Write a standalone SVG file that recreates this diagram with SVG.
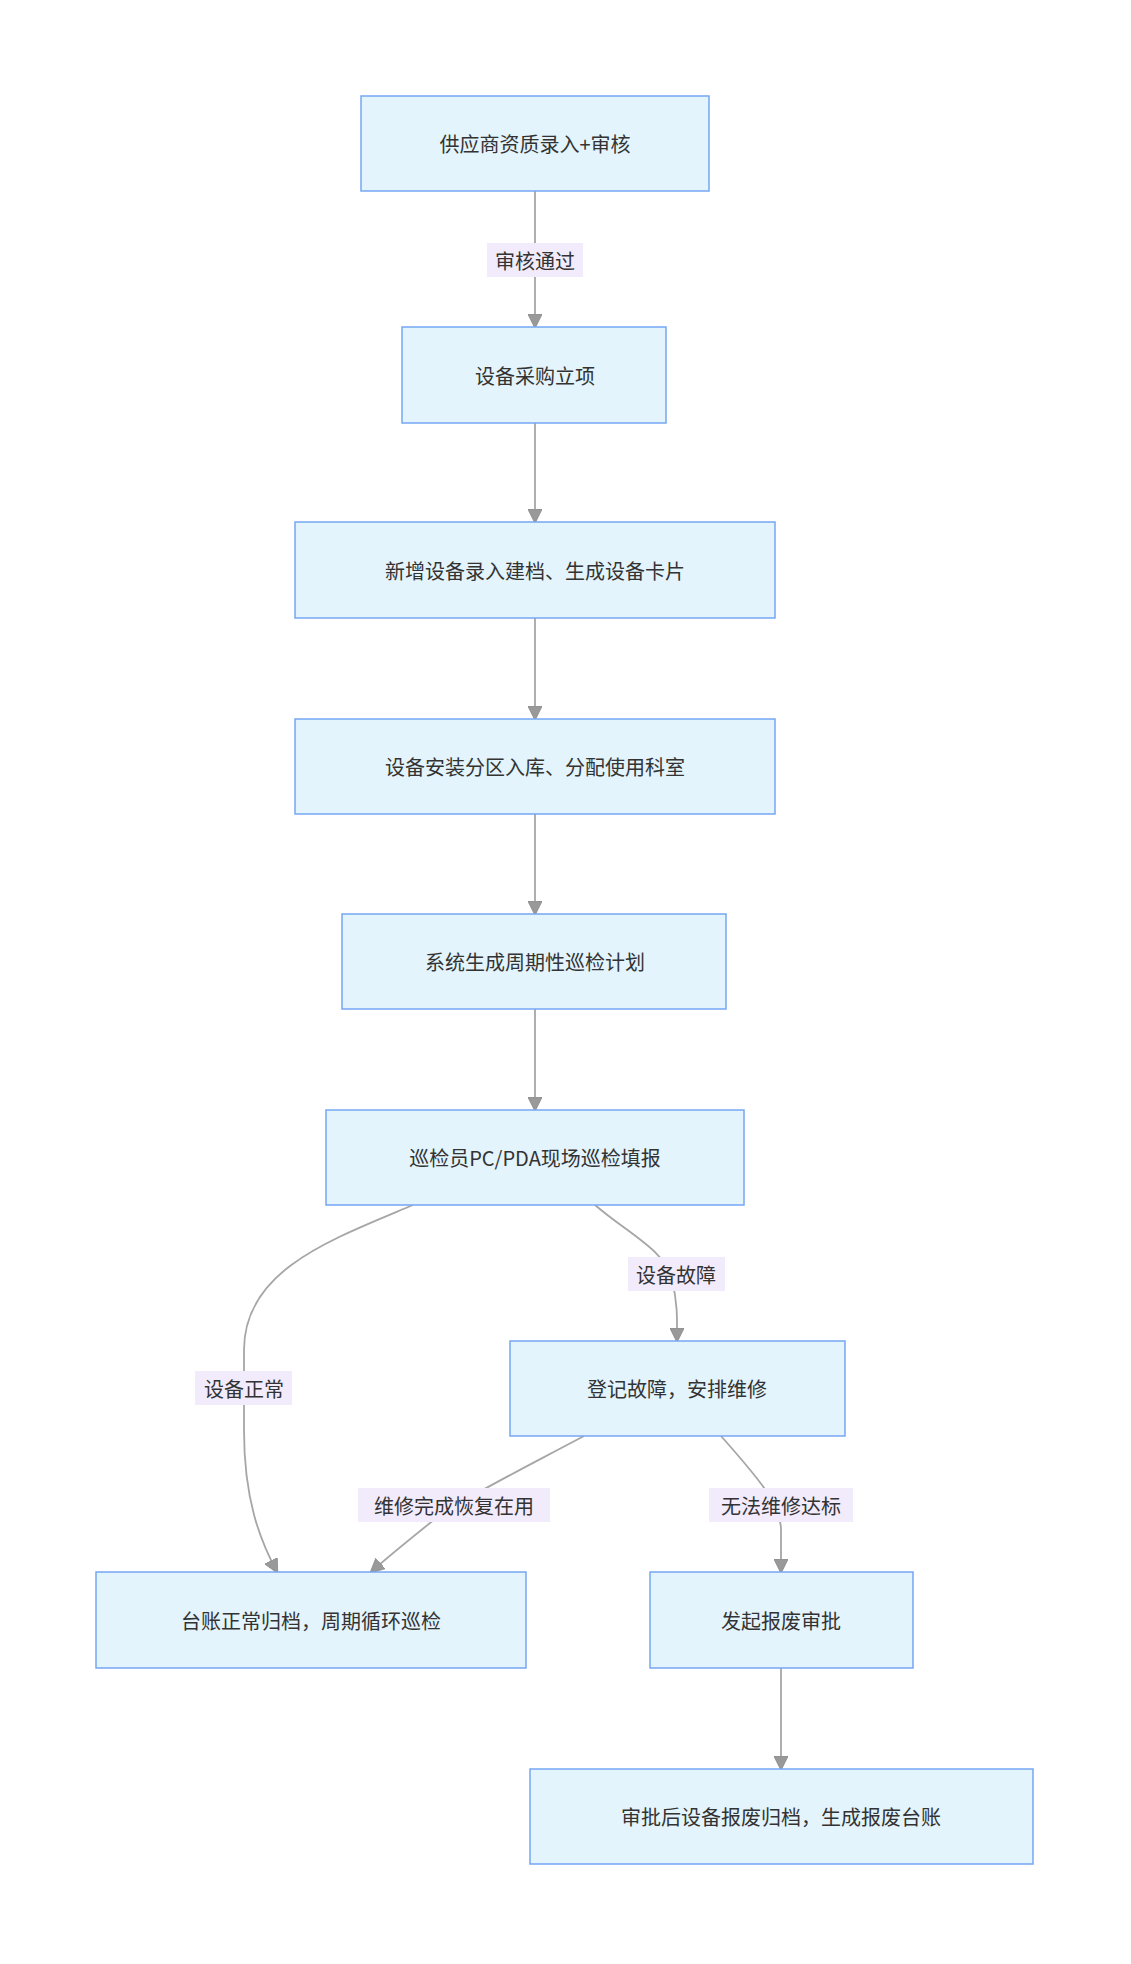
<svg xmlns="http://www.w3.org/2000/svg" width="1131" height="1964" viewBox="0 0 1131 1964">
<style>
.n rect{fill:#e3f4fd;stroke:#76a6f4;stroke-width:1.5}
text{font-family:"Noto Sans CJK SC","Liberation Sans",sans-serif;font-size:20px;fill:#333;text-anchor:middle;dominant-baseline:central}
.e path{fill:none;stroke:#a6a6a6;stroke-width:1.8}
.l rect{fill:#f2ebfb}
</style>
<defs><marker id="a" viewBox="0 0 10 10" refX="9" refY="5" markerWidth="8" markerHeight="8" orient="auto"><path d="M0,0L10,5L0,10z" fill="#999" stroke="#888" stroke-width="0.5"/></marker></defs>
<rect width="1131" height="1964" fill="#fff"/>
<g class="e">
<path d="M535,191V327" marker-end="url(#a)"/>
<path d="M535,423V522" marker-end="url(#a)"/>
<path d="M535,618V719" marker-end="url(#a)"/>
<path d="M535,814V914" marker-end="url(#a)"/>
<path d="M535,1009V1110" marker-end="url(#a)"/>
<path d="M413,1205C330,1240 244,1270 244,1350V1430C244,1500 260,1540 277,1572" marker-end="url(#a)"/>
<path d="M595,1205C630,1235 665,1250 672,1280C678,1305 677,1320 677,1341" marker-end="url(#a)"/>
<path d="M584,1436C520,1470 470,1495 440,1515C415,1535 390,1555 371,1572" marker-end="url(#a)"/>
<path d="M721,1436C760,1480 781,1505 781,1530V1572" marker-end="url(#a)"/>
<path d="M781,1668V1769" marker-end="url(#a)"/>
</g>
<g class="l">
<g><rect x="487" y="243" width="96" height="34"/><text x="535" y="260">审核通过</text></g>
<g><rect x="195" y="1371" width="97" height="34"/><text x="244" y="1388">设备正常</text></g>
<g><rect x="628" y="1257" width="97" height="34"/><text x="676" y="1274">设备故障</text></g>
<g><rect x="358" y="1488" width="192" height="34"/><text x="454" y="1505">维修完成恢复在用</text></g>
<g><rect x="709" y="1488" width="144" height="34"/><text x="781" y="1505">无法维修达标</text></g>
</g>
<g id="n1" class="n"><rect x="361" y="96" width="348" height="95"/><text x="535" y="143">供应商资质录入+审核</text></g>
<g id="n2" class="n"><rect x="402" y="327" width="264" height="96"/><text x="535" y="375">设备采购立项</text></g>
<g id="n3" class="n"><rect x="295" y="522" width="480" height="96"/><text x="535" y="570">新增设备录入建档、生成设备卡片</text></g>
<g id="n4" class="n"><rect x="295" y="719" width="480" height="95"/><text x="535" y="766">设备安装分区入库、分配使用科室</text></g>
<g id="n5" class="n"><rect x="342" y="914" width="384" height="95"/><text x="535" y="961">系统生成周期性巡检计划</text></g>
<g id="n6" class="n"><rect x="326" y="1110" width="418" height="95"/><text x="535" y="1157">巡检员PC/PDA现场巡检填报</text></g>
<g id="n7" class="n"><rect x="510" y="1341" width="335" height="95"/><text x="677" y="1388">登记故障，安排维修</text></g>
<g id="n8" class="n"><rect x="96" y="1572" width="430" height="96"/><text x="311" y="1620">台账正常归档，周期循环巡检</text></g>
<g id="n9" class="n"><rect x="650" y="1572" width="263" height="96"/><text x="781" y="1620">发起报废审批</text></g>
<g id="n10" class="n"><rect x="530" y="1769" width="503" height="95"/><text x="781" y="1816">审批后设备报废归档，生成报废台账</text></g>
</svg>
